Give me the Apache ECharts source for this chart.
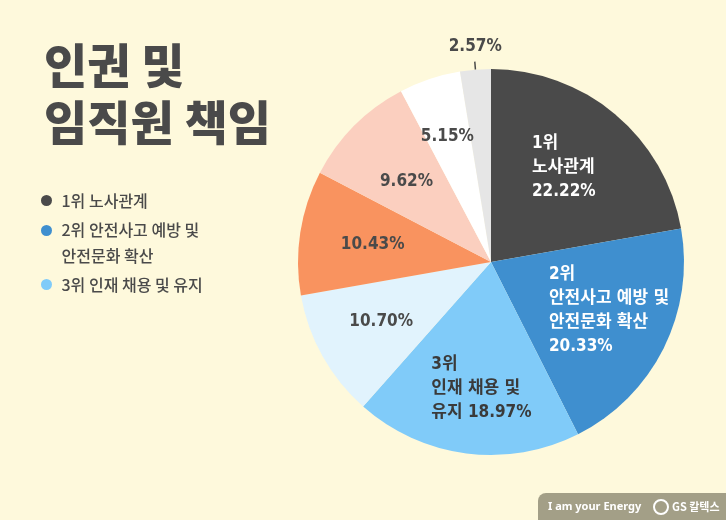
<!DOCTYPE html>
<html>
<head>
<meta charset="utf-8">
<script src="https://cdn.jsdelivr.net/npm/echarts@6/dist/echarts.min.js"></script>
<style>
  html, body { margin: 0; padding: 0; background: #fef9dc; }
  #chart { width: 726px; height: 520px; }
</style>
</head>
<body>
<div id="chart"></div>
<script>
// 데이터
const categories = ['1위 노사관계', '2위 안전사고 예방 및\n안전문화 확산', '3위 인재 채용 및 유지', '4위', '5위', '6위', '7위', '8위'];
const values = [22.22, 20.33, 18.97, 10.70, 10.43, 9.62, 5.15, 2.57];
const labelLines = [
  ['1위', '노사관계', '{v}'],
  ['2위', '안전사고 예방 및', '안전문화 확산', '{v}'],
  ['3위', '인재 채용 및', '유지 {v}'],
  ['{v}'], ['{v}'], ['{v}'], ['{v}'], ['{v}']
];

const colors = ['#4a4a4a', '#3f8fcf', '#80cbf9', '#e1f3fd', '#f9935f', '#fbcfbf', '#ffffff', '#e6e6e6'];
const labelColors = ['#ffffff', '#ffffff', '#3a3a3a', '#4a4a4a', '#4a4a4a', '#4a4a4a', '#4a4a4a', '#4a4a4a'];
const labelWidths = [72, 122, 96, 0, 0, 0, 0, 0];
// 라벨 위치 보정 (기본 위치 기준)
const labelShift = [[13, -18], [30, 4], [1, 28], [-23, 11], [-20, -2], [-14, -10], [-12, -31], [32, -15]];

const numFont = '"DejaVu Sans Condensed", "Noto Sans CJK KR", sans-serif';
const legendFont = 'Noto Sans CJK KR';
const chart = echarts.init(document.getElementById('chart'));

const legendBase = {
  orient: 'vertical',
  left: 41,
  padding: 0,
  icon: 'circle',
  itemWidth: 20,
  itemHeight: 11,
  selectedMode: false,
  textStyle: { color: '#4a4a4a', fontSize: 16, fontWeight: 500, lineHeight: 23, fontFamily: legendFont }
};

chart.setOption({
  backgroundColor: '#fef9dc',
  animation: false,
  title: {
    text: '인권 및\n임직원 책임',
    left: 39,
    top: 32,
    textStyle: {
      color: '#4a4a4a',
      fontSize: 47,
      lineHeight: 57,
      fontWeight: 900,
      fontFamily: 'Noto Sans CJK KR'
    }
  },
  legend: [
    Object.assign({}, legendBase, { top: 189, data: [categories[0]] }),
    Object.assign({}, legendBase, {
      top: 205,
      data: [categories[1]],
      formatter: name => name.split('\n').map((s, i) => (i === 0 ? '{a|' : '{b|') + s + '}').join('\n'),
      textStyle: Object.assign({}, legendBase.textStyle, {
        rich: {
          a: { color: '#4a4a4a', fontSize: 16, fontWeight: 500, lineHeight: 50, fontFamily: legendFont },
          b: { color: '#4a4a4a', fontSize: 16, fontWeight: 500, lineHeight: 1, fontFamily: legendFont }
        }
      })
    }),
    Object.assign({}, legendBase, { top: 273, data: [categories[2]] })
  ],
  series: [{
    type: 'pie',
    center: [491, 262],
    radius: 193,
    startAngle: 90,
    clockwise: true,
    silent: true,
    data: values.map((v, i) => ({
      name: categories[i],
      value: v,
      itemStyle: { color: colors[i] },
      label: i === 7 ? {
        position: 'outside',
        color: labelColors[i],
        fontFamily: numFont,
        fontWeight: 'bold',
        fontSize: 17
      } : {
        position: 'inner',
        color: labelColors[i],
        fontFamily: numFont,
        fontWeight: 'bold',
        fontSize: 17,
        lineHeight: 24,
        rich: labelWidths[i] ? {
          a: { width: labelWidths[i], align: 'left', color: labelColors[i], fontFamily: numFont, fontWeight: 'bold', fontSize: 17, lineHeight: 24 }
        } : {}
      },
      labelLine: i === 7 ? { show: true, length: 8, length2: 0, lineStyle: { color: '#4a4a4a', width: 1.5 } } : { show: false }
    })),
    label: {
      formatter: p => {
        const v = values[p.dataIndex].toFixed(2) + '%';
        const lines = labelLines[p.dataIndex].map(s => s.replace('{v}', v));
        if (labelWidths[p.dataIndex]) return lines.map(s => '{a|' + s + '}').join('\n');
        return lines.join('\n');
      }
    },
    labelLayout: p => ({ dx: labelShift[p.dataIndex][0], dy: labelShift[p.dataIndex][1] })
  }],
  graphic: [{
    type: 'group',
    right: 0,
    bottom: 0,
    children: [
      { type: 'rect', shape: { x: 0, y: 0, width: 188, height: 27, r: [8, 0, 0, 0] }, style: { fill: '#a39f87' } },
      { type: 'text', x: 10, y: 14, style: { text: 'I am your Energy', fill: '#ffffff', font: 'bold 11px "Noto Sans", sans-serif', verticalAlign: 'middle' } },
      { type: 'circle', shape: { cx: 123, cy: 14, r: 7 }, style: { fill: 'none', stroke: '#ffffff', lineWidth: 2 } },
      { type: 'text', x: 134, y: 14, style: { text: 'GS 칼텍스', fill: '#ffffff', font: 'bold 11px "Noto Sans CJK KR", sans-serif', verticalAlign: 'middle' } }
    ]
  }]
});
</script>
</body>
</html>
